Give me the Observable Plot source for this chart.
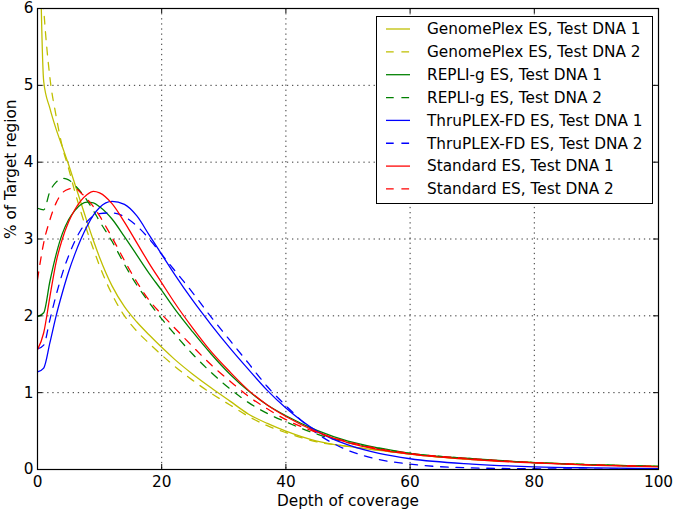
<!DOCTYPE html>
<html>
<head>
<meta charset="utf-8">
<script src="https://cdn.jsdelivr.net/npm/d3@7"></script>
<script src="https://cdn.jsdelivr.net/npm/@observablehq/plot@0.6"></script>
<style>
  html, body { margin: 0; padding: 0; background: #fff; }
  #chart { width: 679px; height: 514px; }
</style>
</head>
<body>
<div id="chart"></div>
<script>
// ---- data ----
const depth = [0,1,2,3,4,5,6,7,8,9,10,12,14,16,18,20,22,25,28,31,34,37,40,45,50,55,60,70,80,90,100];

const genomePlex1 = [8.8,5.05,4.7,4.43,4.2,3.97,3.72,3.47,3.22,2.98,2.76,2.39,2.12,1.92,1.75,1.59,1.44,1.24,1.06,0.89,0.72,0.6,0.5,0.37,0.3,0.25,0.2,0.13,0.09,0.06,0.04];
const genomePlex2 = [7.5,6.0,5.1,4.6,4.2,3.92,3.62,3.35,3.1,2.87,2.65,2.28,2.0,1.8,1.64,1.49,1.35,1.16,0.99,0.84,0.69,0.57,0.48,0.36,0.3,0.25,0.2,0.13,0.09,0.06,0.04];
const repliG1 = [1.99,2.04,2.45,2.8,3.07,3.25,3.37,3.45,3.48,3.47,3.42,3.26,3.03,2.79,2.55,2.33,2.1,1.79,1.5,1.24,1.02,0.84,0.7,0.51,0.37,0.28,0.21,0.14,0.09,0.06,0.04];
const repliG2 = [3.4,3.38,3.62,3.74,3.79,3.77,3.7,3.61,3.5,3.37,3.23,2.97,2.67,2.4,2.17,1.96,1.77,1.5,1.26,1.05,0.87,0.73,0.62,0.46,0.35,0.27,0.21,0.14,0.09,0.06,0.04];
const thruPlex1 = [1.27,1.32,1.65,2.0,2.3,2.57,2.8,3.0,3.17,3.31,3.41,3.49,3.45,3.3,3.05,2.8,2.55,2.2,1.88,1.58,1.3,1.03,0.8,0.5,0.32,0.21,0.14,0.07,0.035,0.02,0.01];
const thruPlex2 = [1.57,1.62,1.95,2.27,2.55,2.78,2.97,3.12,3.23,3.3,3.33,3.34,3.29,3.17,3.0,2.8,2.6,2.3,1.98,1.68,1.38,1.08,0.83,0.47,0.25,0.13,0.07,0.02,0.01,0.005,0.0];
const standard1 = [1.56,1.78,2.25,2.7,3.0,3.22,3.38,3.5,3.58,3.62,3.6,3.46,3.22,2.95,2.68,2.43,2.18,1.84,1.53,1.27,1.03,0.84,0.69,0.49,0.35,0.26,0.2,0.13,0.085,0.055,0.035];
const standard2 = [2.47,2.95,3.25,3.47,3.6,3.65,3.66,3.6,3.52,3.42,3.3,3.02,2.72,2.44,2.2,2.02,1.85,1.6,1.36,1.15,0.95,0.79,0.65,0.48,0.36,0.27,0.21,0.14,0.09,0.06,0.04];

const seriesNames = [
  "GenomePlex ES, Test DNA 1", "GenomePlex ES, Test DNA 2",
  "REPLI-g ES, Test DNA 1", "REPLI-g ES, Test DNA 2",
  "ThruPLEX-FD ES, Test DNA 1", "ThruPLEX-FD ES, Test DNA 2",
  "Standard ES, Test DNA 1", "Standard ES, Test DNA 2"
];
const seriesValues = [genomePlex1, genomePlex2, repliG1, repliG2, thruPlex1, thruPlex2, standard1, standard2];
const seriesColors = ["#bfbf00", "#bfbf00", "#008000", "#008000", "#0000ff", "#0000ff", "#ff0000", "#ff0000"];
const seriesDashed = [false, true, false, true, false, true, false, true];

const xTicks = [0, 20, 40, 60, 80, 100];
const yTicks = [0, 1, 2, 3, 4, 5, 6];
const xLabel = "Depth of coverage";
const yLabel = "% of Target region";

// ---- build ----
const W = 679, H = 514;
const mL = 37, mR = 21, mT = 8, mB = 45;
const innerH = H - mT - mB, innerW = W - mL - mR;
const FONT = "DejaVu Sans";
const FS = 15.3;
const LW = 1.28;
const DASH = "7.7,7.7";

const lineMarks = seriesNames.map((name, i) => {
  const rows = depth.map((d, j) => ({depth: d, value: seriesValues[i][j]}));
  return Plot.line(rows, {
    x: "depth", y: "value", curve: "monotone-x",
    stroke: seriesColors[i], strokeWidth: LW,
    strokeDasharray: seriesDashed[i] ? DASH : null,
    clip: true
  });
});

function legendMark(index, scales, values, dims) {
  const g = d3.create("svg:g").attr("text-anchor", "start");
  const bx = 376, by = 16, bw = 276, bh = 187;
  g.append("rect").attr("x", bx + 0.5).attr("y", by + 0.5).attr("width", bw).attr("height", bh)
    .attr("fill", "white").attr("stroke", "black").attr("stroke-width", 1);
  seriesNames.forEach((name, i) => {
    const cy = 29 + i * 22.85;
    g.append("line").attr("x1", 386).attr("x2", 410).attr("y1", cy).attr("y2", cy)
      .attr("stroke", seriesColors[i]).attr("stroke-width", LW)
      .attr("stroke-dasharray", seriesDashed[i] ? DASH : null);
    g.append("text").attr("x", 427).attr("y", cy).attr("dy", "0.35em")
      .attr("text-anchor", "start")
      .attr("font-family", FONT).attr("font-size", FS).attr("fill", "black")
      .text(name);
  });
  return g.node();
}

const chart = Plot.plot({
  width: W, height: H,
  marginLeft: mL, marginRight: mR, marginTop: mT, marginBottom: mB,
  style: {fontFamily: FONT, fontSize: FS + "px", background: "white", color: "black"},
  x: {domain: [0, 100], label: null},
  y: {domain: [0, 6], label: null},
  marks: [
    Plot.gridX(xTicks.slice(1, -1), {stroke: "black", strokeOpacity: 1, strokeWidth: 0.8, strokeDasharray: "1.3,3.8"}),
    Plot.gridY(yTicks.slice(1, -1), {stroke: "black", strokeOpacity: 1, strokeWidth: 0.8, strokeDasharray: "1.3,3.8"}),
    ...lineMarks,
    // inward ticks on all four sides
    Plot.tickX(xTicks, {x: d => d, insetTop: innerH - 5, stroke: "black", strokeWidth: 1}),
    Plot.tickX(xTicks, {x: d => d, insetBottom: innerH - 5, stroke: "black", strokeWidth: 1}),
    Plot.tickY(yTicks, {y: d => d, insetRight: innerW - 5, stroke: "black", strokeWidth: 1}),
    Plot.tickY(yTicks, {y: d => d, insetLeft: innerW - 5, stroke: "black", strokeWidth: 1}),
    Plot.frame({stroke: "black", strokeWidth: 1.2}),
    Plot.axisX(xTicks, {tickSize: 0, tickPadding: 7, fontSize: FS, label: null, tickFormat: d => String(d)}),
    Plot.axisY(yTicks, {tickSize: 0, tickPadding: 4, fontSize: FS, label: null, tickFormat: d => String(d)}),
    Plot.text([xLabel], {frameAnchor: "bottom", lineAnchor: "middle", dy: 32, text: d => d, fontSize: FS, fill: "black"}),
    Plot.text([yLabel], {frameAnchor: "left", lineAnchor: "middle", dx: -26, rotate: -90, text: d => d, fontSize: FS, fill: "black"}),
    legendMark
  ]
});
document.getElementById("chart").appendChild(chart);
</script>
</body>
</html>
